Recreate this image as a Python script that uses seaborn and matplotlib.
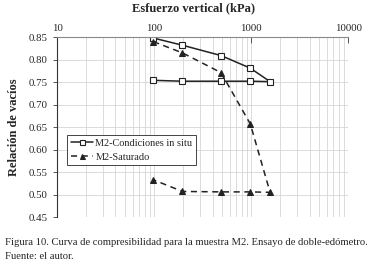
import pandas as pd
import seaborn as sns
import numpy as np
import matplotlib.pyplot as plt
from matplotlib.ticker import LogLocator, FixedLocator, FormatStrFormatter

# cargas (kPa) y relacion de vacios: carga y luego descarga
esfuerzo = [98, 196, 490, 981, 1569, 981, 490, 196, 98]
e_insitu = [0.848, 0.832, 0.809, 0.781, 0.751, 0.752, 0.752, 0.752, 0.754]
e_saturado = [0.840, 0.815, 0.771, 0.657, 0.505, 0.506, 0.506, 0.507, 0.533]
series_names = ["M2-Condiciones in situ", "M2-Saturado"]

y_ticks = [0.45, 0.50, 0.55, 0.60, 0.65, 0.70, 0.75, 0.80, 0.85]
x_ticks = [10, 100, 1000, 10000]

sns.set_style("white")
plt.rcParams['font.family'] = ['Liberation Serif', 'DejaVu Serif']

df_insitu = pd.DataFrame({"esfuerzo": esfuerzo, "e": e_insitu})
df_sat = pd.DataFrame({"esfuerzo": esfuerzo, "e": e_saturado})

fig = plt.figure(figsize=(3.78, 2.69), dpi=100)
ax = fig.add_axes([0.151, 0.193, 0.770, 0.669])

sns.lineplot(data=df_insitu, x="esfuerzo", y="e", estimator=None, sort=False, ax=ax,
             color="#222222", linewidth=1.1, marker="s", markersize=4.5,
             markerfacecolor="white", markeredgecolor="#222222", markeredgewidth=0.8,
             label=series_names[0])
sns.lineplot(data=df_sat, x="esfuerzo", y="e", estimator=None, sort=False, ax=ax,
             color="#222222", linewidth=1.1, linestyle=(0, (4, 3)), marker="^", markersize=4.5,
             markerfacecolor="#222222", markeredgecolor="#222222",
             label=series_names[1])

ax.set_xscale("log")
ax.set_xlim(10, 10000)
ax.set_ylim(0.45, 0.85)
ax.xaxis.set_major_locator(FixedLocator(x_ticks))
ax.xaxis.set_minor_locator(LogLocator(base=10, subs=np.arange(2, 10)))
ax.xaxis.set_major_formatter(FormatStrFormatter("%d"))
ax.xaxis.set_minor_formatter(plt.NullFormatter())
ax.set_yticks(y_ticks)
ax.yaxis.set_major_formatter(FormatStrFormatter("%.2f"))

ax.xaxis.tick_top()
ax.xaxis.set_label_position("top")
ax.tick_params(axis="x", which="major", direction="in", length=4, width=0.7, color="#555555",
               labelsize=7.8, pad=3, top=True, bottom=False)
ax.tick_params(axis="x", which="minor", length=0, top=False, bottom=False)
ax.tick_params(axis="y", which="major", direction="out", length=3, width=0.7, color="#555555",
               labelsize=7.8, pad=4, left=True)

ax.grid(True, which="both", axis="x", color="#d6d6d6", linewidth=0.6)
ax.grid(True, which="major", axis="y", color="#d6d6d6", linewidth=0.6)
ax.set_axisbelow(True)

for side in ["right", "bottom"]:
    ax.spines[side].set_visible(False)
ax.spines["left"].set_color("#333333")
ax.spines["left"].set_linewidth(0.8)
ax.spines["top"].set_color("#8a8a8a")
ax.spines["top"].set_linewidth(0.8)

ax.set_xlabel("Esfuerzo vertical (kPa)", fontsize=9, fontweight="bold", labelpad=4)
ax.xaxis.set_label_coords(0.47, 1.145)
ax.set_ylabel("Relación de vacíos", fontsize=9, fontweight="bold", labelpad=6)

leg = ax.legend(loc="upper left", bbox_to_anchor=(0.034, 0.455), fontsize=7.4, frameon=True,
                fancybox=False, framealpha=1, edgecolor="#444444", borderpad=0.35,
                handlelength=2.2, handletextpad=0.2, labelspacing=0.45, borderaxespad=0,
                markerscale=0.8)
leg.get_frame().set_linewidth(0.7)

fig.text(0.013, 0.097, "Figura 10. Curva de compresibilidad para la muestra M2. Ensayo de doble-edómetro.",
         fontsize=7.7, ha="left", va="center")
fig.text(0.013, 0.047, "Fuente: el autor.", fontsize=7.7, ha="left", va="center")

plt.savefig("out.png", dpi=100)
